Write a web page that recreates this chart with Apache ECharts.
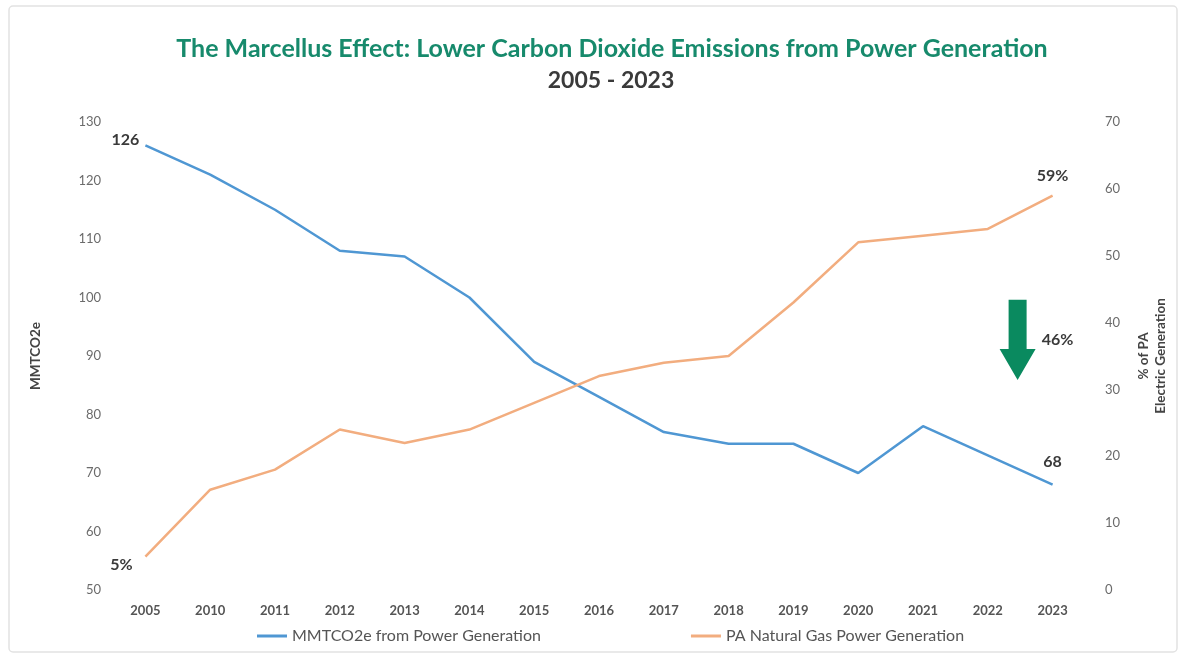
<!DOCTYPE html>
<html>
<head>
<meta charset="utf-8">
<script src="https://cdn.jsdelivr.net/npm/echarts@6/dist/echarts.min.js"></script>
<style>
  html, body { margin: 0; padding: 0; background: #ffffff; }
  #chart { width: 1186px; height: 658px; }
</style>
</head>
<body>
<div id="chart"></div>
<script>
// Years on the category axis
const years = ['2005', '2010', '2011', '2012', '2013', '2014', '2015', '2016',
               '2017', '2018', '2019', '2020', '2021', '2022', '2023'];
// CO2 emissions from power generation (million metric tons CO2e)
const emissions = [126, 121, 115, 108, 107, 100, 89, 83, 77, 75, 75, 70, 78, 73, 68];
// Natural gas share of PA electric generation (%)
const gasShare = [5, 15, 18, 24, 22, 24, 28, 32, 34, 35, 43, 52, 53, 54, 59];
// Reduction in emissions between first and last year
const reductionLabel = '46%';

const FONT = 'Lato, "Open Sans", sans-serif';
const BLUE = '#4f97d3';
const ORANGE = '#f2ad7f';
const GREEN = '#0a8a5f';
const AXIS_GREY = '#6b6b6b';
const DARK = '#3a3a3a';

const chart = echarts.init(document.getElementById('chart'), null, { renderer: 'canvas' });

// Bold value label only at the first and last points of a series
function endLabels(values, fmt, first, last) {
  return values.map((v, i) => {
    const cfg = i === 0 ? first : (i === values.length - 1 ? last : null);
    if (!cfg) return v;
    return {
      value: v,
      label: {
        show: true,
        position: cfg.position,
        offset: cfg.offset,
        formatter: fmt(v),
        color: DARK, fontWeight: 'bold', fontSize: 16, fontFamily: FONT
      }
    };
  });
}

const option = {
  backgroundColor: '#ffffff',
  animation: false,
  title: [
    {
      text: 'The Marcellus Effect: Lower Carbon Dioxide Emissions from Power Generation',
      left: 607, textAlign: 'center', top: 31,
      textStyle: { color: '#178a6c', fontSize: 25, fontWeight: 'bold', fontFamily: FONT }
    },
    {
      text: '2005 - 2023',
      left: 606, textAlign: 'center', top: 64,
      textStyle: { color: DARK, fontSize: 23, fontWeight: 'bold', fontFamily: FONT }
    }
  ],
  legend: {
    bottom: 9,
    left: 252,
    itemGap: 150,
    itemWidth: 30,
    itemHeight: 3,
    icon: 'rect',
    textStyle: { color: '#555555', fontSize: 16, fontFamily: FONT },
    data: ['MMTCO2e from Power Generation', 'PA Natural Gas Power Generation']
  },
  grid: { left: 113, right: 101, top: 122, bottom: 68 },
  xAxis: {
    type: 'category',
    data: years,
    boundaryGap: true,
    axisLine: { show: false },
    axisTick: { show: false },
    axisLabel: { color: '#555555', fontSize: 13, fontWeight: 'bold', fontFamily: FONT, margin: 14 }
  },
  yAxis: [
    {
      type: 'value', min: 50, max: 130, interval: 10,
      name: 'MMTCO2e',
      nameLocation: 'middle', nameGap: 70, nameRotate: 90,
      nameTextStyle: { color: '#444444', fontSize: 13.5, fontWeight: 'bold', fontFamily: FONT },
      axisLine: { show: false }, axisTick: { show: false },
      splitLine: { show: false },
      axisLabel: { color: AXIS_GREY, fontSize: 13, fontFamily: FONT, margin: 12 }
    },
    {
      type: 'value', min: 0, max: 70, interval: 10,
      name: '% of PA\nElectric Generation',
      nameLocation: 'middle', nameGap: 50, nameRotate: 90,
      nameTextStyle: { color: '#444444', fontSize: 13.5, fontWeight: 'bold', fontFamily: FONT, lineHeight: 17 },
      axisLine: { show: false }, axisTick: { show: false },
      splitLine: { show: false },
      axisLabel: { color: AXIS_GREY, fontSize: 13, fontFamily: FONT, margin: 20 }
    }
  ],
  series: [
    {
      name: 'MMTCO2e from Power Generation',
      type: 'line',
      yAxisIndex: 0,
      data: endLabels(emissions, v => String(v),
        { position: 'left', offset: [-1, -6] },
        { position: 'top', offset: [0, -10] }),
      symbol: 'circle',
      symbolSize: 0,
      showSymbol: true,
      lineStyle: { color: BLUE, width: 2.5 },
      itemStyle: { color: BLUE }
    },
    {
      name: 'PA Natural Gas Power Generation',
      type: 'line',
      yAxisIndex: 1,
      data: endLabels(gasShare, v => v + '%',
        { position: 'bottom', offset: [-24, -5] },
        { position: 'top', offset: [0, -7] }),
      symbol: 'circle',
      symbolSize: 0,
      showSymbol: true,
      lineStyle: { color: ORANGE, width: 2.5 },
      itemStyle: { color: ORANGE }
    }
  ]
};

chart.setOption(option);

// Downward arrow with the emission reduction, placed beside the last year
const lastX = chart.convertToPixel({ xAxisIndex: 0 }, years[years.length - 1]);
const step = chart.convertToPixel({ xAxisIndex: 0 }, years[1]) - chart.convertToPixel({ xAxisIndex: 0 }, years[0]);
const ax = lastX - step * 0.54;
const yTop = chart.convertToPixel({ yAxisIndex: 0 }, 99.6);
const yNeck = chart.convertToPixel({ yAxisIndex: 0 }, 91.2);
const yTip = chart.convertToPixel({ yAxisIndex: 0 }, 85.9);

chart.setOption({
  graphic: [
    {
      type: 'rect',
      shape: { x: 9, y: 6, width: 1168, height: 646, r: 4 },
      style: { fill: 'none', stroke: '#e2e2e2', lineWidth: 1.5 },
      silent: true, z: -1
    },
    {
      type: 'polygon',
      shape: {
        points: [
          [ax - 9, yTop], [ax + 9, yTop], [ax + 9, yNeck], [ax + 18, yNeck],
          [ax, yTip], [ax - 18, yNeck], [ax - 9, yNeck]
        ]
      },
      style: { fill: GREEN }
    },
    {
      type: 'text',
      x: lastX + 5, y: chart.convertToPixel({ yAxisIndex: 0 }, 92.7),
      style: {
        text: reductionLabel, fill: DARK, fontSize: 16, fontWeight: 'bold',
        fontFamily: FONT, align: 'center', verticalAlign: 'middle'
      }
    }
  ]
});
</script>
</body>
</html>
